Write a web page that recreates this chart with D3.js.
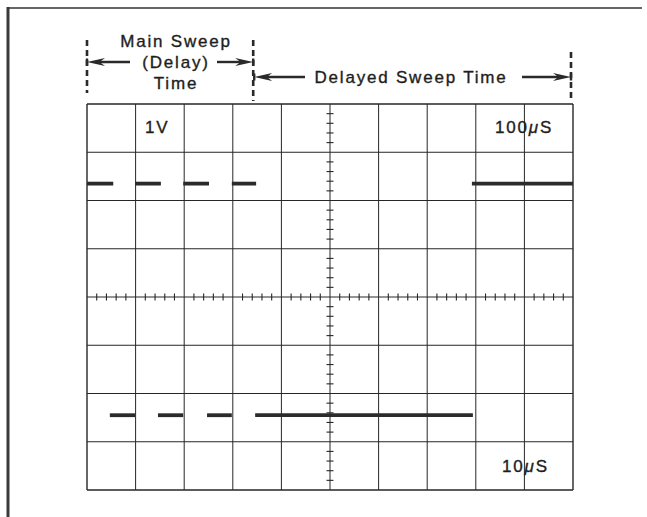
<!DOCTYPE html>
<html>
<head>
<meta charset="utf-8">
<script src="https://cdn.jsdelivr.net/npm/d3@7"></script>
<style>
  html, body { margin: 0; padding: 0; background: #fff; }
  svg { display: block; }
  text { font-family: "Liberation Sans", Arial, Helvetica, sans-serif; fill: #1e1e1e; stroke: #1e1e1e; stroke-width: 0.35; }
</style>
</head>
<body>
<svg id="chart" width="647" height="517"></svg>
<script>
// ---- Data (graticule divisions: x 0..10, y -4..+4) ----
const xDivisions = d3.range(0, 11);
const yDivisions = d3.range(-4, 5);
const minorStep = 0.2;

const topTraceLevel = 2.35;
const topTraceSegments = [[0, 0.54], [0.99, 1.52], [1.98, 2.51], [2.98, 3.48], [7.92, 10]];

const bottomTraceLevel = -2.45;
const bottomTraceSegments = [[0.47, 0.99], [1.46, 1.98], [2.47, 2.98], [3.46, 7.94]];

const delayBoundary = 3.42;       // end of main sweep (delay) time
const sweepEnd = 10;

const voltsLabel = "1V";
const mainSweepLabel = ["100", "μ", "S"];
const delayedSweepLabel = ["10", "μ", "S"];
const mainHeaderLines = ["Main Sweep", "(Delay)", "Time"];
const delayedHeader = "Delayed Sweep Time";

// ---- Layout ----
const svg = d3.select("#chart");
const x = d3.scaleLinear().domain([0, 10]).range([87, 573]);
const y = d3.scaleLinear().domain([-4, 4]).range([490, 104]);
const ink = "#262626";

// outer frame
svg.append("line").attr("x1", 8).attr("x2", 8).attr("y1", 7).attr("y2", 517)
  .attr("stroke", "#3a3a3a").attr("stroke-width", 3);
svg.append("line").attr("x1", 7).attr("x2", 642).attr("y1", 8).attr("y2", 8)
  .attr("stroke", "#333").attr("stroke-width", 1.5);

// graticule
const g = svg.append("g");
g.selectAll("line.vx").data(xDivisions).join("line")
  .attr("x1", d => x(d)).attr("x2", d => x(d))
  .attr("y1", y(-4)).attr("y2", y(4))
  .attr("stroke", ink).attr("stroke-width", d => (d === 0 || d === 10) ? 1.4 : 1);
g.selectAll("line.hy").data(yDivisions).join("line")
  .attr("y1", d => y(d)).attr("y2", d => y(d))
  .attr("x1", x(0)).attr("x2", x(10))
  .attr("stroke", ink).attr("stroke-width", d => (d === -4 || d === 4) ? 1.4 : 1);

// minor ticks on center axes
const xMinor = d3.range(0, 10 + 1e-9, minorStep).filter(v => Math.abs(v - Math.round(v)) > 1e-6);
const yMinor = d3.range(-4, 4 + 1e-9, minorStep).filter(v => Math.abs(v - Math.round(v)) > 1e-6);
g.selectAll("line.mx").data(xMinor).join("line")
  .attr("x1", d => x(d)).attr("x2", d => x(d))
  .attr("y1", y(0) - 3.5).attr("y2", y(0) + 3.5)
  .attr("stroke", ink).attr("stroke-width", 1.1);
g.selectAll("line.my").data(yMinor).join("line")
  .attr("y1", d => y(d)).attr("y2", d => y(d))
  .attr("x1", x(5) - 3.5).attr("x2", x(5) + 3.5)
  .attr("stroke", ink).attr("stroke-width", 1.1);

// traces
function drawTrace(segs, level) {
  svg.append("g").selectAll("line").data(segs).join("line")
    .attr("x1", d => x(d[0])).attr("x2", d => x(d[1]))
    .attr("y1", y(level)).attr("y2", y(level))
    .attr("stroke", "#2b2b2b").attr("stroke-width", 3.8);
}
drawTrace(topTraceSegments, topTraceLevel);
drawTrace(bottomTraceSegments, bottomTraceLevel);

// labels in the graticule
const lblSize = 17, lblSpacing = 1.8;
svg.append("text").attr("x", 145).attr("y", 133)
  .attr("font-size", lblSize).attr("letter-spacing", lblSpacing).text(voltsLabel);
function unitLabel(parts, px, py) {
  const t = svg.append("text").attr("x", px).attr("y", py)
    .attr("font-size", lblSize).attr("letter-spacing", lblSpacing);
  t.append("tspan").text(parts[0]);
  t.append("tspan").attr("font-style", "italic").text(parts[1]);
  t.append("tspan").text(parts[2]);
}
unitLabel(mainSweepLabel, 495, 133);
unitLabel(delayedSweepLabel, 502, 472);

// header: dashed boundaries
function dashed(px, y1, y2) {
  svg.append("line").attr("x1", px).attr("x2", px).attr("y1", y1).attr("y2", y2)
    .attr("stroke", "#2a2a2a").attr("stroke-width", 2.6).attr("stroke-dasharray", "6,4");
}
dashed(x(0), 40, 93);
dashed(x(delayBoundary), 40, 101);
dashed(x(sweepEnd) - 2, 52, 101);

// arrows
function arrow(xTip, xTail, ay) {
  const dir = xTail > xTip ? 1 : -1;
  const headLen = 18, half = 4;
  svg.append("line").attr("x1", xTip + dir * headLen * 0.6).attr("x2", xTail)
    .attr("y1", ay).attr("y2", ay).attr("stroke", "#2a2a2a").attr("stroke-width", 2.4);
  svg.append("path")
    .attr("d", `M${xTip},${ay} L${xTip + dir * headLen},${ay - half} L${xTip + dir * headLen * 0.7},${ay} L${xTip + dir * headLen},${ay + half} Z`)
    .attr("fill", "#2a2a2a");
  svg.append("line").attr("x1", xTip).attr("x2", xTip).attr("y1", ay - 3.5).attr("y2", ay + 3.5)
    .attr("stroke", "#2a2a2a").attr("stroke-width", 2.4);
}
arrow(x(0), 130, 62);
arrow(x(delayBoundary), 217, 62);
arrow(x(delayBoundary) + 1, 305, 77);
arrow(x(sweepEnd) - 2, 522, 77);

// header text
const mainCx = 176;
const headerBaselines = [47, 68, 89];
svg.append("g").selectAll("text").data(mainHeaderLines).join("text")
  .attr("x", mainCx).attr("y", (d, i) => headerBaselines[i])
  .attr("text-anchor", "middle").attr("font-size", lblSize).attr("letter-spacing", lblSpacing)
  .text(d => d);
svg.append("text").attr("x", 411).attr("y", 83)
  .attr("text-anchor", "middle").attr("font-size", lblSize).attr("letter-spacing", lblSpacing)
  .text(delayedHeader);
</script>
</body>
</html>
